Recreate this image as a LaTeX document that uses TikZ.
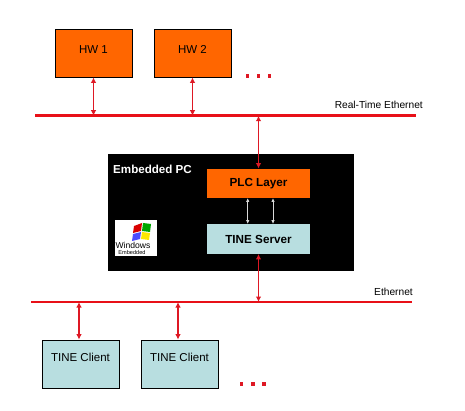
\documentclass[tikz,border=0pt]{standalone}
\usepackage{fontspec}
\setmainfont{Liberation Sans}
\usetikzlibrary{arrows.meta}
\definecolor{hworange}{RGB}{255,102,0}
\definecolor{tineblue}{RGB}{184,222,224}
\definecolor{busred}{RGB}{232,16,24}
\definecolor{arrowred}{RGB}{222,24,36}
\tikzset{
  unit/.style={draw=black,line width=0.7pt,minimum width=77pt,minimum height=48pt,inner sep=0pt,text=black,font=\fontsize{11.5}{13}\selectfont},
  hwbox/.style={unit,fill=hworange},
  clientbox/.style={unit,fill=tineblue},
  layerbox/.style={inner sep=0pt,minimum width=102.5pt,minimum height=29.5pt,font=\bfseries\fontsize{11.7}{13}\selectfont,text=black},
  bus/.style={draw=busred,line width=2.8pt},
  link/.style={draw=arrowred,line width=1.5pt,{Latex[length=5.5pt,width=5.5pt]}-{Latex[length=5.5pt,width=5.5pt]}},
  inner/.style={draw=white!85!black,line width=0.8pt,{Latex[length=4pt,width=3.5pt]}-{Latex[length=4pt,width=3.5pt]}},
  reddot/.style={fill=arrowred,minimum size=3.6pt,inner sep=0pt},
  buslabel/.style={font=\fontsize{10.2}{12}\selectfont,text=black,inner sep=0pt}
}
\begin{document}
\begin{tikzpicture}[x=1pt,y=-1pt]
\useasboundingbox[fill=white] (0,0) rectangle (465,411);
% embedded PC
\node[fill=black,minimum width=246pt,minimum height=117pt,inner sep=0pt] (pc) at (231,212.5) {};
\node[font=\bfseries\fontsize{11.6}{13}\selectfont,text=white,inner sep=0pt,anchor=west] (pclabel) at (113,169) {Embedded PC};
\node[layerbox,fill=hworange] (plc) at (258.5,183.5) {PLC Layer};
\node[layerbox,fill=tineblue] (srv) at (258.5,239) {TINE Server};
% Windows logo
\node[fill=white,minimum width=42pt,minimum height=36pt,inner sep=0pt] (logo) at (136,238) {};
\fill[red!85!black]   (134,226) -- (142,223) -- (141,231) -- (133,233) -- cycle;
\fill[green!65!black] (143,223) -- (151,224) -- (150,232) -- (142,231) -- cycle;
\fill[blue!70!white]  (133,234) -- (141,232) -- (140,239) -- (132,241) -- cycle;
\fill[yellow!90!orange] (142,232) -- (150,233) -- (149,240) -- (141,239) -- cycle;
\node[font=\fontsize{8.6}{9}\selectfont,text=black,inner sep=0pt] (win) at (133,245.5) {Windows};
\node[font=\fontsize{5.6}{6}\selectfont,text=black,inner sep=0pt] (emb) at (132,252.5) {Embedded};
% hardware
\node[hwbox,text depth=7pt] (hw1) at (93.5,53) {HW 1};
\node[hwbox,text depth=7pt] (hw2) at (192.5,53) {HW 2};
\node[clientbox,text depth=14pt] (c1) at (80.5,364) {TINE Client};
\node[clientbox,text depth=14pt] (c2) at (179.5,364) {TINE Client};
% buses
\coordinate (rtL) at (35,115.7);
\coordinate (rtR) at (416,115.7);
\coordinate (etL) at (31,302);
\coordinate (etR) at (412,302);
\draw[bus] (rtL) -- (rtR);
\draw[bus] (etL) -- (etR);
\node[buslabel,anchor=east] (rtlabel) at (423,105) {Real-Time Ethernet};
\node[buslabel,anchor=east] (etlabel) at (413,291.5) {Ethernet};
% links
\coordinate (a1) at (93.5,115.7);
\coordinate (a2) at (192.5,115.7);
\coordinate (a3) at (258.5,115.7);
\coordinate (b1) at (79,302);
\coordinate (b2) at (178,302);
\coordinate (b3) at (258.5,302);
\draw[link] (hw1.south) -- (a1);
\draw[link] (hw2.south) -- (a2);
\draw[link] (a3) -- (plc.north);
\draw[link] (srv.south) -- (b3);
\draw[link] (b1) -- (b1 |- c1.north);
\draw[link] (b2) -- (b2 |- c2.north);
% inner links
\coordinate (i1) at (247.7,198);
\coordinate (i2) at (273,198);
\draw[inner] (i1) -- (i1 |- srv.north);
\draw[inner] (i2) -- (i2 |- srv.north);
% dots
\node[reddot] (d1) at (247.5,76) {};
\node[reddot] (d2) at (258.5,76) {};
\node[reddot] (d3) at (269.5,76) {};
\node[reddot] (e1) at (241.5,383.7) {};
\node[reddot] (e2) at (253,383.7) {};
\node[reddot] (e3) at (264,383.7) {};
\end{tikzpicture}
\end{document}
